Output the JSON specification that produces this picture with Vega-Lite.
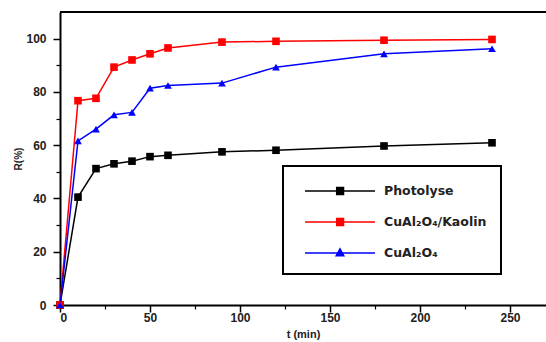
{
  "$schema": "https://vega.github.io/schema/vega-lite/v6.json",
  "autosize": "none",
  "width": 486,
  "height": 293,
  "padding": {"left": 60, "top": 12, "right": 0, "bottom": 37},
  "background": "white",
  "config": {
    "view": {"stroke": null},
    "axis": {"grid": false, "domainColor": "black", "tickColor": "black", "labelColor": "#222222", "titleColor": "#222222", "labelFont": "Liberation Sans", "titleFont": "Liberation Sans", "labelFontWeight": "bold", "titleFontWeight": "bold"}
  },
  "data": {"values": [
    {"t": 0, "R": 0, "series": "Photolyse"},
    {"t": 10, "R": 40.5, "series": "Photolyse"},
    {"t": 20, "R": 51.2, "series": "Photolyse"},
    {"t": 30, "R": 53, "series": "Photolyse"},
    {"t": 40, "R": 54, "series": "Photolyse"},
    {"t": 50, "R": 55.7, "series": "Photolyse"},
    {"t": 60, "R": 56.2, "series": "Photolyse"},
    {"t": 90, "R": 57.5, "series": "Photolyse"},
    {"t": 120, "R": 58.1, "series": "Photolyse"},
    {"t": 180, "R": 59.7, "series": "Photolyse"},
    {"t": 240, "R": 60.9, "series": "Photolyse"},
    {"t": 0, "R": 0, "series": "CuAl₂O₄/Kaolin"},
    {"t": 10, "R": 76.7, "series": "CuAl₂O₄/Kaolin"},
    {"t": 20, "R": 77.6, "series": "CuAl₂O₄/Kaolin"},
    {"t": 30, "R": 89.3, "series": "CuAl₂O₄/Kaolin"},
    {"t": 40, "R": 92, "series": "CuAl₂O₄/Kaolin"},
    {"t": 50, "R": 94.3, "series": "CuAl₂O₄/Kaolin"},
    {"t": 60, "R": 96.5, "series": "CuAl₂O₄/Kaolin"},
    {"t": 90, "R": 98.7, "series": "CuAl₂O₄/Kaolin"},
    {"t": 120, "R": 99, "series": "CuAl₂O₄/Kaolin"},
    {"t": 180, "R": 99.4, "series": "CuAl₂O₄/Kaolin"},
    {"t": 240, "R": 99.7, "series": "CuAl₂O₄/Kaolin"},
    {"t": 0, "R": 0, "series": "CuAl₂O₄"},
    {"t": 10, "R": 61.6, "series": "CuAl₂O₄"},
    {"t": 20, "R": 66, "series": "CuAl₂O₄"},
    {"t": 30, "R": 71.4, "series": "CuAl₂O₄"},
    {"t": 40, "R": 72.3, "series": "CuAl₂O₄"},
    {"t": 50, "R": 81.4, "series": "CuAl₂O₄"},
    {"t": 60, "R": 82.4, "series": "CuAl₂O₄"},
    {"t": 90, "R": 83.3, "series": "CuAl₂O₄"},
    {"t": 120, "R": 89.3, "series": "CuAl₂O₄"},
    {"t": 180, "R": 94.3, "series": "CuAl₂O₄"},
    {"t": 240, "R": 96.2, "series": "CuAl₂O₄"}
  ]},
  "layer": [
    {
      "mark": {"type": "line", "strokeWidth": 1.5},
      "encoding": {
        "x": {"field": "t", "type": "quantitative", "scale": {"domain": [0, 270], "nice": false, "zero": false},
              "axis": {"orient": "bottom", "values": [25, 75, 125, 175, 225], "labels": false, "domain": false, "tickSize": 4, "tickWidth": 1.2, "title": null}},
        "y": {"field": "R", "type": "quantitative", "scale": {"domain": [0, 110], "nice": false},
              "axis": {"orient": "left", "values": [10, 30, 50, 70, 90], "labels": false, "domain": false, "tickSize": 4, "tickWidth": 1.2, "title": null}},
        "color": {"field": "series", "type": "nominal", "scale": {"domain": ["Photolyse", "CuAl₂O₄/Kaolin", "CuAl₂O₄"], "range": ["#000000", "#ff0000", "#0000ff"]},
          "legend": {"orient": "none", "legendX": 223, "legendY": 154, "title": null, "symbolSize": 400, "symbolStrokeWidth": 1.5, "labelOffset": 65, "labelFont": "DejaVu Sans", "labelFontSize": 12.5, "labelFontWeight": "bold", "labelColor": "#222222", "padding": 14, "rowPadding": 13, "strokeColor": "black", "fillColor": "white", "symbolOpacity": 1,
            "encode": {
              "legend": {"update": {"strokeWidth": {"value": 2}}},
              "symbols": {"update": {
                "fill": {"scale": "color", "field": "value"},
                "stroke": {"scale": "color", "field": "value"},
                "strokeWidth": {"value": 1.5},
                "shape": {"signal": "datum.value === 'CuAl₂O₄' ? 'M-0.3,0H6.7M3.2,-0.42L3.58,0.28H2.82Z' : 'M-0.3,0H6.7M2.87,-0.34H3.55V0.34H2.87Z'"}
              }}
            }}},
        "detail": {"field": "series"}
      }
    },
    {
      "transform": [{"filter": "datum.series !== 'CuAl₂O₄'"}],
      "mark": {"type": "point", "filled": true, "opacity": 1, "size": 58, "shape": "square"},
      "encoding": {
        "x": {"field": "t", "type": "quantitative",
              "axis": {"orient": "bottom", "values": [0, 50, 100, 150, 200, 250], "tickSize": 7, "tickWidth": 1.5, "domainWidth": 2, "labelFontSize": 12, "labelPadding": 0, "title": "t (min)", "titleFontSize": 11, "titlePadding": 5}},
        "y": {"field": "R", "type": "quantitative",
              "axis": {"orient": "left", "values": [0, 20, 40, 60, 80, 100], "tickSize": 7, "tickWidth": 1.5, "domainWidth": 2, "labelFontSize": 12, "labelPadding": 7, "title": "R(%)", "titleFontSize": 10, "titlePadding": 2}},
        "color": {"field": "series", "type": "nominal", "legend": null}
      }
    },
    {
      "transform": [{"filter": "datum.series === 'CuAl₂O₄'"}],
      "mark": {"type": "point", "filled": true, "opacity": 1, "size": 60, "shape": "triangle-up"},
      "encoding": {
        "x": {"field": "t", "type": "quantitative", "axis": {"orient": "bottom", "domain": false, "ticks": false, "labels": false, "title": null}},
        "y": {"field": "R", "type": "quantitative", "axis": {"orient": "left", "domain": false, "ticks": false, "labels": false, "title": null}},
        "color": {"field": "series", "type": "nominal", "legend": null}
      }
    },
    {
      "mark": {"type": "rule", "color": "black", "strokeWidth": 2},
      "encoding": {"y": {"datum": 110, "axis": {"orient": "left", "domain": false, "ticks": false, "labels": false, "title": null}}}
    }
  ],
  "resolve": {"axis": {"x": "independent", "y": "independent"}}
}
